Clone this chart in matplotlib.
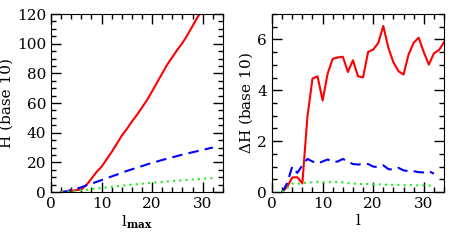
import numpy as np
import matplotlib
matplotlib.use("Agg")
import matplotlib.pyplot as plt
from matplotlib.ticker import MultipleLocator

plt.rcParams['font.family'] = ['DejaVu Serif']
plt.rcParams['mathtext.fontset'] = 'dejavuserif'

# left panel: H vs l_max
l_left = np.arange(2, 33)
h_red = [0, 0.2, 0.8, 1.3, 1.7, 4.7, 9, 13.5, 17, 22, 27, 32.5, 38, 42.5, 47.5, 52,
         57, 62, 68, 74, 80, 86, 91, 96, 100.5, 106, 112, 118, 123, 128, 133]
h_blue = [0, 0.4, 1.4, 2.1, 3.2, 4.5, 5.7, 6.8, 8, 9.3, 10.5, 11.7, 13, 14.2, 15.3, 16.4,
          17.5, 18.6, 19.6, 20.6, 21.6, 22.5, 23.4, 24.3, 25.2, 26, 26.8, 27.6, 28.4, 29.2, 30]
h_green = [0, 0.15, 0.5, 0.8, 1.2, 1.5, 1.9, 2.3, 2.7, 3.1, 3.5, 3.9, 4.3, 4.6, 4.9, 5.3,
           5.6, 5.9, 6.2, 6.5, 6.8, 7.1, 7.3, 7.6, 7.9, 8.2, 8.4, 8.7, 8.9, 9.2, 9.4]

# right panel: delta H vs l
l_red = np.arange(2, 35)
dh_red = [0, 0.2, 0.57, 0.58, 0.34, 2.97, 4.46, 4.55, 3.6, 4.66, 5.24, 5.29, 5.32, 4.72,
          5.18, 4.55, 4.51, 5.51, 5.6, 5.86, 6.53, 5.67, 5.1, 4.75, 4.62, 5.41, 5.87, 6.07,
          5.5, 5.01, 5.45, 5.58, 5.89]
l_right = np.arange(2, 33)
dh_blue = [0, 0.35, 1.0, 0.75, 1.05, 1.3, 1.2, 1.12, 1.2, 1.28, 1.18, 1.2, 1.3, 1.2, 1.1,
           1.08, 1.1, 1.1, 1.0, 0.98, 1.05, 0.9, 0.88, 0.95, 0.85, 0.82, 0.82, 0.78, 0.77,
           0.82, 0.72]
dh_green = [0, 0.15, 0.33, 0.32, 0.35, 0.37, 0.38, 0.4, 0.38, 0.4, 0.38, 0.4, 0.38, 0.35,
            0.33, 0.33, 0.3, 0.32, 0.3, 0.3, 0.3, 0.28, 0.28, 0.28, 0.27, 0.27, 0.27, 0.26,
            0.26, 0.25, 0.25]

fig = plt.figure(figsize=(4.69, 2.42), dpi=100)
ax1 = fig.add_axes([0.1087, 0.2066, 0.3667, 0.7355])
ax2 = fig.add_axes([0.58, 0.2066, 0.3667, 0.7355])

red = '#ff0000'
blue = '#0000ff'
green = '#22ee22'

ax1.plot(l_left, h_red, color=red, lw=1.5)
ax1.plot(l_left, h_blue, color=blue, lw=1.5, dashes=(5, 3))
ax1.plot(l_left, h_green, color=green, lw=1.5, dashes=(1, 2))
ax1.set_xlim(0, 34)
ax1.set_ylim(0, 120)
ax1.xaxis.set_major_locator(MultipleLocator(10))
ax1.xaxis.set_minor_locator(MultipleLocator(2))
ax1.yaxis.set_major_locator(MultipleLocator(20))
ax1.yaxis.set_minor_locator(MultipleLocator(5))
ax1.set_xlabel(r'l$_{\mathbf{max}}$', fontsize=11, labelpad=2)
ax1.set_ylabel('H (base 10)', fontsize=11, labelpad=2)

ax2.plot(l_red, dh_red, color=red, lw=1.5)
ax2.plot(l_right, dh_blue, color=blue, lw=1.5, dashes=(5, 3))
ax2.plot(l_right, dh_green, color=green, lw=1.5, dashes=(1, 2))
ax2.set_xlim(0, 34)
ax2.set_ylim(0, 7)
ax2.xaxis.set_major_locator(MultipleLocator(10))
ax2.xaxis.set_minor_locator(MultipleLocator(2))
ax2.yaxis.set_major_locator(MultipleLocator(2))
ax2.yaxis.set_minor_locator(MultipleLocator(0.5))
ax2.set_xlabel('l', fontsize=11, labelpad=2)
ax2.set_ylabel(r'$\Delta$H (base 10)', fontsize=11, labelpad=2)

for ax in (ax1, ax2):
    ax.tick_params(which='both', direction='in', top=True, right=True, labelsize=11)
    ax.tick_params(which='major', length=7, width=1)
    ax.tick_params(which='minor', length=3.5, width=1)

fig.savefig('out.png', dpi=100)
